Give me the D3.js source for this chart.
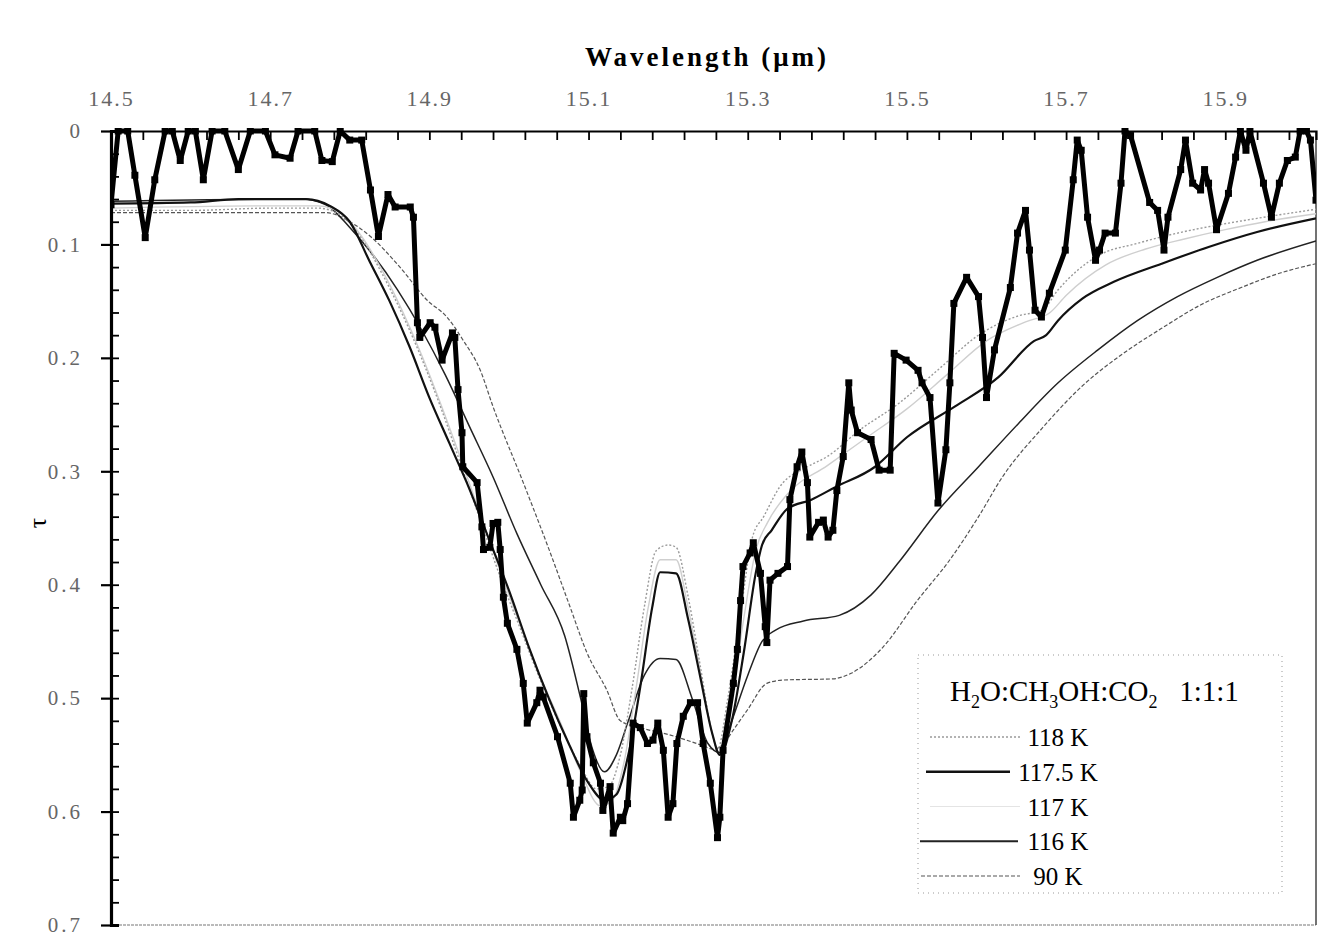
<!DOCTYPE html>
<html>
<head>
<meta charset="utf-8">
<script src="https://cdn.jsdelivr.net/npm/d3@7"></script>
<style>
  body { margin: 0; background: #fff; }
  svg { display: block; }
  .tick text { font-family: "Liberation Serif", "DejaVu Serif", serif; }
</style>
</head>
<body>
<svg id="chart" width="1318" height="943"></svg>
<script>
// observed spectrum (wavelength in um, optical depth tau)
const obsWave = [14.500, 14.509, 14.521, 14.530, 14.543, 14.555, 14.568, 14.577, 14.587, 14.597,
  14.606, 14.616, 14.627, 14.643, 14.660, 14.675, 14.694, 14.706, 14.725, 14.735,
  14.756, 14.765, 14.778, 14.788, 14.800, 14.815, 14.826, 14.836, 14.848, 14.857,
  14.876, 14.880, 14.885, 14.888, 14.901, 14.907, 14.916, 14.929, 14.932, 14.936,
  14.941, 14.942, 14.960, 14.966, 14.968, 14.976, 14.980, 14.986, 14.989, 14.993,
  14.998, 15.010, 15.018, 15.023, 15.035, 15.039, 15.043, 15.061, 15.077, 15.081,
  15.089, 15.092, 15.094, 15.098, 15.106, 15.115, 15.118, 15.127, 15.131, 15.140,
  15.143, 15.149, 15.156, 15.165, 15.174, 15.181, 15.187, 15.194, 15.200, 15.206,
  15.211, 15.219, 15.228, 15.237, 15.244, 15.253, 15.262, 15.265, 15.269, 15.282,
  15.287, 15.291, 15.294, 15.303, 15.307, 15.316, 15.322, 15.324, 15.328, 15.338,
  15.350, 15.353, 15.362, 15.368, 15.375, 15.378, 15.389, 15.395, 15.401, 15.407,
  15.412, 15.420, 15.427, 15.430, 15.438, 15.455, 15.465, 15.479, 15.484, 15.499,
  15.514, 15.519, 15.529, 15.539, 15.549, 15.554, 15.559, 15.575, 15.590, 15.595,
  15.600, 15.610, 15.630, 15.639, 15.649, 15.654, 15.661, 15.669, 15.679, 15.699,
  15.709, 15.714, 15.719, 15.727, 15.737, 15.742, 15.749, 15.762, 15.769, 15.774,
  15.781, 15.805, 15.815, 15.823, 15.828, 15.844, 15.850, 15.859, 15.869, 15.874,
  15.879, 15.889, 15.904, 15.913, 15.919, 15.926, 15.931, 15.948, 15.958, 15.968,
  15.978, 15.988, 15.994, 16.002, 16.007, 16.014];
const obsTau = [0.065, 0, 0, 0.039, 0.094, 0.043, 0, 0, 0.026, 0,
  0, 0.043, 0, 0, 0.034, 0, 0, 0.021, 0.024, 0,
  0, 0.026, 0.027, 0, 0.008, 0.008, 0.052, 0.093, 0.056, 0.067,
  0.067, 0.076, 0.169, 0.182, 0.169, 0.173, 0.202, 0.178, 0.182, 0.228,
  0.266, 0.296, 0.310, 0.349, 0.369, 0.367, 0.346, 0.345, 0.369, 0.411,
  0.434, 0.457, 0.487, 0.522, 0.504, 0.493, 0.499, 0.534, 0.575, 0.605,
  0.590, 0.581, 0.496, 0.534, 0.557, 0.575, 0.599, 0.578, 0.619, 0.605,
  0.608, 0.593, 0.522, 0.526, 0.540, 0.537, 0.522, 0.546, 0.605, 0.593,
  0.540, 0.516, 0.504, 0.504, 0.540, 0.575, 0.623, 0.605, 0.546, 0.487,
  0.457, 0.414, 0.384, 0.372, 0.363, 0.390, 0.437, 0.451, 0.396, 0.390,
  0.384, 0.325, 0.296, 0.283, 0.310, 0.358, 0.345, 0.343, 0.358, 0.352,
  0.317, 0.287, 0.222, 0.246, 0.266, 0.272, 0.299, 0.299, 0.196, 0.202,
  0.211, 0.222, 0.235, 0.328, 0.281, 0.222, 0.152, 0.129, 0.146, 0.182,
  0.235, 0.193, 0.138, 0.090, 0.070, 0.105, 0.158, 0.164, 0.143, 0.105,
  0.043, 0.008, 0.017, 0.076, 0.114, 0.105, 0.090, 0.090, 0.046, 0,
  0.004, 0.063, 0.070, 0.105, 0.076, 0.034, 0.008, 0.046, 0.052, 0.034,
  0.046, 0.087, 0.055, 0.023, 0, 0.017, 0, 0.046, 0.076, 0.046,
  0.026, 0.023, 0, 0, 0.008, 0.061];

// laboratory spectra H2O:CH3OH:CO2 1:1:1
const wave118 = [14.5, 14.6, 14.7, 14.76, 14.79, 14.815, 14.84, 14.865, 14.89, 14.915, 14.94, 14.965, 14.99, 15.015, 15.04, 15.065, 15.09, 15.11, 15.125, 15.14, 15.155, 15.17, 15.185, 15.2, 15.21, 15.225, 15.24, 15.255, 15.262, 15.275, 15.29, 15.306, 15.32, 15.34, 15.375, 15.4, 15.44, 15.49, 15.54, 15.59, 15.64, 15.67, 15.69, 15.74, 15.79, 15.84, 15.89, 15.94, 16.014];
const tau118 = [0.07, 0.07, 0.068, 0.068, 0.075, 0.095, 0.125, 0.16, 0.2, 0.245, 0.295, 0.345, 0.395, 0.44, 0.485, 0.525, 0.56, 0.58, 0.578, 0.55, 0.49, 0.42, 0.37, 0.365, 0.367, 0.41, 0.47, 0.53, 0.545, 0.5, 0.43, 0.358, 0.34, 0.314, 0.296, 0.287, 0.264, 0.24, 0.21, 0.18, 0.163, 0.158, 0.14, 0.11, 0.099, 0.09, 0.083, 0.077, 0.069];

const wave1175 = [14.5, 14.6, 14.66, 14.745, 14.775, 14.8, 14.825, 14.85, 14.875, 14.9, 14.925, 14.95, 14.975, 15.0, 15.025, 15.05, 15.075, 15.1, 15.12, 15.135, 15.15, 15.165, 15.18, 15.19, 15.21, 15.225, 15.24, 15.255, 15.265, 15.28, 15.295, 15.31, 15.318, 15.33, 15.35, 15.38, 15.41, 15.46, 15.5, 15.56, 15.615, 15.66, 15.675, 15.69, 15.72, 15.76, 15.82, 15.88, 15.94, 16.014];
const tau1175 = [0.064, 0.063, 0.06, 0.06, 0.066, 0.08, 0.115, 0.15, 0.19, 0.235, 0.275, 0.315, 0.36, 0.405, 0.455, 0.5, 0.54, 0.575, 0.59, 0.585, 0.55, 0.49, 0.42, 0.389, 0.39, 0.43, 0.48, 0.53, 0.55, 0.52, 0.46, 0.39, 0.365, 0.352, 0.333, 0.325, 0.314, 0.296, 0.27, 0.243, 0.217, 0.185, 0.18, 0.167, 0.148, 0.133, 0.117, 0.102, 0.089, 0.077];

const wave117 = [14.5, 14.7, 14.76, 14.79, 14.815, 14.84, 14.865, 14.89, 14.915, 14.94, 14.965, 14.99, 15.015, 15.04, 15.065, 15.09, 15.115, 15.13, 15.145, 15.16, 15.175, 15.19, 15.21, 15.225, 15.24, 15.255, 15.265, 15.28, 15.295, 15.31, 15.325, 15.35, 15.4, 15.45, 15.5, 15.55, 15.6, 15.65, 15.68, 15.7, 15.75, 15.8, 15.85, 15.9, 15.95, 16.014];
const tau117 = [0.068, 0.066, 0.066, 0.073, 0.093, 0.122, 0.157, 0.197, 0.242, 0.29, 0.34, 0.39, 0.437, 0.482, 0.522, 0.565, 0.595, 0.59, 0.555, 0.49, 0.42, 0.378, 0.378, 0.42, 0.475, 0.53, 0.55, 0.5, 0.43, 0.37, 0.345, 0.32, 0.295, 0.27, 0.245, 0.215, 0.185, 0.168, 0.16, 0.145, 0.118, 0.104, 0.095, 0.087, 0.08, 0.073];

const wave116 = [14.5, 14.74, 14.77, 14.8, 14.83, 14.86, 14.89, 14.92, 14.95, 14.98, 15.01, 15.04, 15.07, 15.09, 15.105, 15.12, 15.135, 15.15, 15.17, 15.19, 15.21, 15.23, 15.25, 15.265, 15.28, 15.3, 15.318, 15.335, 15.37, 15.415, 15.455, 15.49, 15.54, 15.59, 15.64, 15.69, 15.74, 15.79, 15.84, 15.89, 15.94, 16.014];
const tau116 = [0.062, 0.06, 0.065, 0.085, 0.11, 0.14, 0.175, 0.215, 0.26, 0.305, 0.355, 0.4, 0.445, 0.5, 0.545, 0.565, 0.55, 0.52, 0.48, 0.465, 0.466, 0.5, 0.54, 0.548, 0.52, 0.48, 0.45, 0.44, 0.432, 0.427, 0.409, 0.38, 0.334, 0.296, 0.258, 0.222, 0.193, 0.167, 0.146, 0.129, 0.114, 0.097];

const wave90 = [14.5, 14.77, 14.8, 14.826, 14.863, 14.897, 14.922, 14.942, 14.964, 14.98, 15.018, 15.052, 15.077, 15.098, 15.123, 15.14, 15.17, 15.2, 15.24, 15.257, 15.27, 15.282, 15.3, 15.324, 15.345, 15.407, 15.43, 15.47, 15.513, 15.554, 15.59, 15.62, 15.67, 15.72, 15.77, 15.82, 15.87, 15.92, 15.97, 16.014];
const tau90 = [0.072, 0.072, 0.08, 0.093, 0.12, 0.149, 0.164, 0.184, 0.211, 0.243, 0.31, 0.372, 0.42, 0.46, 0.493, 0.52, 0.527, 0.532, 0.541, 0.545, 0.54, 0.528, 0.51, 0.487, 0.484, 0.483, 0.478, 0.455, 0.414, 0.378, 0.34, 0.305, 0.262, 0.225, 0.197, 0.174, 0.153, 0.138, 0.125, 0.117];

const xTickLabels = [14.5, 14.7, 14.9, 15.1, 15.3, 15.5, 15.7, 15.9];
const yTickLabels = [0, 0.1, 0.2, 0.3, 0.4, 0.5, 0.6, 0.7];
const legendLabels = ["118 K", "117.5 K", "117 K", "116 K", "90 K"];

const MARGIN = { top: 131, right: 2, bottom: 18, left: 111 };
const WIDTH = 1318, HEIGHT = 943;
const w = WIDTH - MARGIN.left - MARGIN.right,
  h = HEIGHT - MARGIN.top - MARGIN.bottom;

const svg = d3.select("#chart");
const g = svg.append("g")
  .attr("transform", "translate(" + MARGIN.left + "," + MARGIN.top + ")");

const x = d3.scaleLinear().domain([14.5, 16.014]).range([0, w]);
const y = d3.scaleLinear().domain([0, 0.7]).range([0, h]);

g.append("clipPath").attr("id", "plot-clip")
  .append("rect").attr("x", 0).attr("y", -3).attr("width", w).attr("height", h + 3);

// frame: bottom and right edges
g.append("line").attr("x1", 0).attr("x2", w).attr("y1", h).attr("y2", h)
  .attr("stroke", "#777").attr("stroke-width", 1.2).attr("stroke-dasharray", "3,1");
g.append("line").attr("x1", w).attr("x2", w).attr("y1", 0).attr("y2", h)
  .attr("stroke", "#444").attr("stroke-width", 1.5);

const series = [
  { wave: wave90, tau: tau90, color: "#555", width: 1.2, dash: "4,2" },
  { wave: wave116, tau: tau116, color: "#222", width: 1.5, dash: null },
  { wave: wave117, tau: tau117, color: "#cfcfcf", width: 1.4, dash: null },
  { wave: wave118, tau: tau118, color: "#9a9a9a", width: 1.4, dash: "2,2" },
  { wave: wave1175, tau: tau1175, color: "#111", width: 2.2, dash: null }
];

const modelLine = d3.line()
  .x(d => x(d[0]))
  .y(d => y(d[1]))
  .curve(d3.curveMonotoneX);

const plot = g.append("g").attr("clip-path", "url(#plot-clip)");

series.forEach(s => {
  plot.append("path")
    .datum(d3.zip(s.wave, s.tau))
    .attr("fill", "none")
    .attr("stroke", s.color)
    .attr("stroke-width", s.width)
    .attr("stroke-dasharray", s.dash)
    .attr("d", modelLine);
});

// observed spectrum
const obs = d3.zip(obsWave, obsTau);
plot.append("path")
  .datum(obs)
  .attr("fill", "none")
  .attr("stroke", "#000")
  .attr("stroke-width", 5)
  .attr("stroke-linejoin", "round")
  .attr("d", d3.line().x(d => x(d[0])).y(d => y(d[1])));

plot.selectAll("rect.pt")
  .data(obs)
  .enter().append("rect")
  .attr("class", "pt")
  .attr("x", d => x(d[0]) - 3.5)
  .attr("y", d => y(d[1]) - 3.5)
  .attr("width", 7)
  .attr("height", 7)
  .attr("fill", "#000");

// top axis (minor ticks every 0.04, labels every 0.2)
g.append("g")
  .call(d3.axisTop(x).tickValues(d3.range(14.5, 16.0, 0.04)).tickSize(-9).tickFormat(""))
  .call(a => a.select(".domain").attr("stroke-width", 2.2))
  .call(a => a.selectAll(".tick line").attr("stroke-width", 1.8));

g.append("g")
  .call(d3.axisTop(x).tickValues(xTickLabels).tickSize(0).tickPadding(25).tickFormat(d3.format(".1f")))
  .call(a => a.select(".domain").remove())
  .call(a => a.selectAll("text")
    .attr("font-size", 22)
    .attr("fill", "#666")
    .attr("letter-spacing", 2));

// left axis
g.append("g")
  .call(d3.axisLeft(y).tickValues(d3.range(0, 0.7001, 0.02)).tickSize(-8).tickFormat(""))
  .call(a => a.select(".domain").attr("stroke-width", 3.2))
  .call(a => a.selectAll(".tick line").attr("stroke-width", 1.8));

g.append("g")
  .call(d3.axisLeft(y).tickValues(yTickLabels).tickSize(10).tickPadding(18)
    .tickFormat(d => d === 0 ? "0" : d3.format(".1f")(d)))
  .call(a => a.select(".domain").remove())
  .call(a => a.selectAll(".tick line").attr("stroke-width", 2.2))
  .call(a => a.selectAll("text")
    .attr("font-size", 21)
    .attr("fill", "#666")
    .attr("letter-spacing", 3));

// titles
svg.append("text")
  .attr("x", 707)
  .attr("y", 66)
  .attr("text-anchor", "middle")
  .style("font-family", "'Liberation Serif', serif")
  .style("font-weight", "bold")
  .style("font-size", "27px")
  .style("letter-spacing", "3px")
  .text("Wavelength (μm)");

svg.append("text")
  .attr("transform", "translate(46,523) rotate(-90)")
  .attr("text-anchor", "middle")
  .style("font-family", "'Liberation Serif', serif")
  .style("font-size", "26px")
  .text("τ");

// legend
const legend = svg.append("g");
legend.append("rect")
  .attr("x", 918).attr("y", 655)
  .attr("width", 364).attr("height", 238)
  .attr("fill", "#fff")
  .attr("stroke", "#999")
  .attr("stroke-width", 1)
  .attr("stroke-dasharray", "1,4");

const lt = legend.append("text")
  .attr("x", 950).attr("y", 701)
  .style("font-family", "'Liberation Serif', serif")
  .style("font-size", "29px");
[["H", 0], ["2", 1], ["O:CH", 0], ["3", 1], ["OH:CO", 0], ["2", 1], ["\u00a0\u00a0\u00a01:1:1", 0]].forEach(p => {
  lt.append("tspan")
    .attr("baseline-shift", p[1] ? "-7" : null)
    .style("font-size", p[1] ? "18px" : null)
    .text(p[0]);
});

const legendStyle = [
  { x1: 930, x2: 1020, color: "#9a9a9a", width: 1.4, dash: "2,2" },
  { x1: 926, x2: 1010, color: "#111", width: 2.4, dash: null },
  { x1: 930, x2: 1020, color: "#e4e4e4", width: 1.2, dash: null },
  { x1: 920, x2: 1018, color: "#222", width: 1.8, dash: null },
  { x1: 921, x2: 1020, color: "#555", width: 1.2, dash: "4,2" }
];
const legendY = d3.scalePoint().domain(legendLabels).range([737, 876]);

legendLabels.forEach((lab, i) => {
  const st = legendStyle[i];
  legend.append("line")
    .attr("x1", st.x1).attr("x2", st.x2)
    .attr("y1", legendY(lab)).attr("y2", legendY(lab))
    .attr("stroke", st.color)
    .attr("stroke-width", st.width)
    .attr("stroke-dasharray", st.dash);
  legend.append("text")
    .attr("x", 1058)
    .attr("y", legendY(lab) + 9)
    .attr("text-anchor", "middle")
    .style("font-family", "'Liberation Serif', serif")
    .style("font-size", "25px")
    .text(lab);
});
</script>
</body>
</html>
